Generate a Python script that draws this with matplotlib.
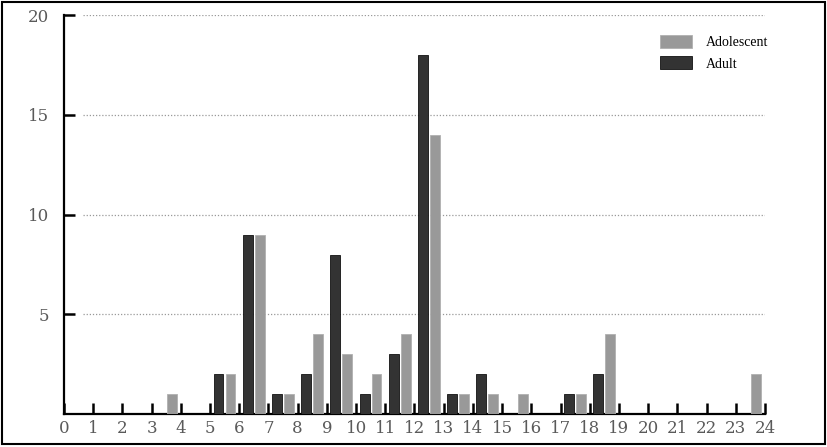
import matplotlib
matplotlib.use("Agg")
import matplotlib.pyplot as plt
from matplotlib.patches import Rectangle
import numpy as np

# Data: bins starting at integer k (k .. k+1)
bins = list(range(24))
adult = [0, 0, 0, 0, 0, 2, 9, 1, 2, 8, 1, 3, 18, 1, 2, 0, 0, 1, 2, 0, 0, 0, 0, 0]
adolescent = [0, 0, 0, 1, 0, 2, 9, 1, 4, 3, 2, 4, 14, 1, 1, 1, 0, 1, 4, 0, 0, 0, 0, 2]
xticks = list(range(25))
yticks = [5, 10, 15, 20]
labels = ["Adolescent", "Adult"]

fig = plt.figure(figsize=(8.27, 4.47), dpi=100)
fig.patch.set_facecolor("white")
fig.add_artist(Rectangle((0.003, 0.006), 0.994, 0.99, transform=fig.transFigure,
                         fill=False, edgecolor="black", linewidth=1.5))
ax = fig.add_axes([0.0774, 0.0738, 0.8476, 0.892])

x = np.array(bins, dtype=float)
w = 0.34
b_adult = ax.bar(x + 0.29, adult, width=w, color="#333333", edgecolor="#111111", linewidth=0.6, zorder=3)
b_adol = ax.bar(x + 0.70, adolescent, width=w, color="#999999", edgecolor="#b0b0b0", linewidth=0.6, zorder=3)

ax.set_xlim(0, 24)
ax.set_ylim(0, 20)
ax.set_xticks(xticks)
ax.set_yticks(yticks)
ax.set_xticklabels([str(t) for t in xticks], family="DejaVu Serif", fontsize=12, color="#5a5a5a")
ax.set_yticklabels([str(t) for t in yticks], family="DejaVu Serif", fontsize=12, color="#5a5a5a")

for y in yticks:
    ax.axhline(y, xmin=0.027, xmax=1.0, color="#999999", linestyle=(0, (1, 1.5)), linewidth=0.9, zorder=1)

for s in ["top", "right"]:
    ax.spines[s].set_visible(False)
for s in ["left", "bottom"]:
    ax.spines[s].set_linewidth(1.6)
    ax.spines[s].set_color("black")

ax.tick_params(axis="x", direction="in", length=8, width=1.8, pad=4)
ax.tick_params(axis="y", direction="in", length=8, width=1.8, pad=11)

leg = fig.legend([b_adol, b_adult], labels, loc="upper left",
                 bbox_to_anchor=(660 / 827, 1 - 35 / 447), bbox_transform=fig.transFigure,
                 frameon=False, borderpad=0, borderaxespad=0,
                 handlelength=2.3, handleheight=1.08, handletextpad=1.0,
                 labelspacing=0.5, prop={"family": "Liberation Serif", "size": 10})

fig.savefig("out.png", dpi=100, facecolor="white")
